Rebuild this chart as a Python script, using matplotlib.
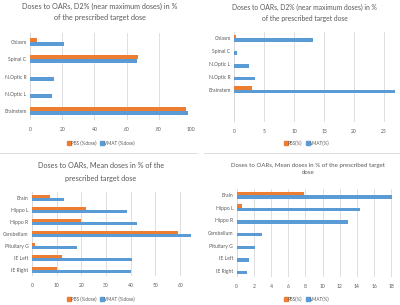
import numpy as np
import matplotlib
matplotlib.use("Agg")
from matplotlib import pyplot as plt
from matplotlib.lines import Line2D

plt.rcParams['font.family'] = ['Lato', 'DejaVu Sans']

# top left: D2%, % of prescribed dose
tl_labels = ["Chiasm", "Spinal C", "N.Optic R", "N.Optic L", "Brainstem"]
tl_pbs = [4.6, 67.1, 0, 0, 96.9]
tl_vmat = [21.3, 66.5, 14.9, 13.9, 98.3]

# top right: D2%
tr_labels = ["Chiasm", "Spinal C", "N.Optic L", "N.Optic R", "Brainstem"]
tr_pbs = [0.3, 0, 0, 0, 3.0]
tr_vmat = [13.2, 0.5, 2.5, 3.5, 26.9]

# bottom left: mean doses
bl_labels = ["Brain", "Hippo L", "Hippo R", "Cerebellum", "Pituitary G", "IE Left", "IE Right"]
bl_pbs = [7.4, 22.0, 19.8, 59.3, 1.3, 12.1, 10.1]
bl_vmat = [12.8, 38.4, 42.4, 64.3, 18.2, 40.4, 40.0]

# bottom right: mean doses
br_labels = ["Brain", "Hippo L", "Hippo R", "Cerebellum", "Pituitary G", "IE Left", "IE Right"]
br_pbs = [7.8, 0.6, 0, 0, 0, 0, 0]
br_vmat = [18.1, 14.3, 13.0, 2.9, 2.1, 1.4, 1.2]

ORANGE = "#ED7D31"
BLUE = "#5B9BD5"
GREY = "#595959"
W, H = 400, 305

fig = plt.figure(figsize=(4, 3.05), dpi=100)


def rect(x0, y0, x1, y1):
    return [x0 / W, 1 - y1 / H, (x1 - x0) / W, (y1 - y0) / H]


def panel(box, labels, pbs, vmat, xmax, step, nslots, bh):
    ax = fig.add_axes(rect(*box))
    y = np.arange(len(labels))
    ax.barh(y - bh / 2, pbs, height=bh, color=ORANGE, zorder=3)
    ax.barh(y + bh / 2, vmat, height=bh, color=BLUE, zorder=3)
    ax.set_yticks(y)
    ax.set_yticklabels(labels)
    ax.set_ylim(nslots - 0.5, -0.5)
    ax.set_xlim(0, xmax)
    ax.set_xticks(np.arange(0, xmax + 0.01, step))
    ax.grid(axis='x', color="#D9D9D9", linewidth=0.6, zorder=0)
    for s in ax.spines.values():
        s.set_visible(False)
    ax.axvline(0, color="#D9D9D9", linewidth=0.6, zorder=1)
    ax.tick_params(length=0, labelsize=3.6, colors=GREY, pad=2.5)
    ax.tick_params(axis='x', pad=5)
    return ax


def legend(cx, cy, names):
    handles = [Line2D([], [], marker='s', linestyle='', color=ORANGE, markersize=2.2),
               Line2D([], [], marker='s', linestyle='', color=BLUE, markersize=2.2)]
    fig.legend(handles, names, loc='center', bbox_to_anchor=(cx / W, 1 - cy / H),
               ncol=2, frameon=False, fontsize=3.3, labelcolor=GREY,
               handletextpad=0.1, columnspacing=0.8, handlelength=0.8)


panel((30, 33.4, 191, 119.7), tl_labels, tl_pbs, tl_vmat, 100, 20, 5, 0.23)
panel((234, 32, 396, 122), tr_labels, tr_pbs, tr_vmat, 27, 5, 7, 0.27)
panel((32, 192, 192.5, 276), bl_labels, bl_pbs, bl_vmat, 65, 10, 7, 0.27)
panel((236.7, 189, 395.7, 277), br_labels, br_pbs, br_vmat, 18.5, 2, 7, 0.27)

fig.text(100 / W, 1 - 12 / H, "Doses to OARs, D2% (near maximum doses) in %\nof the prescribed target dose",
         ha='center', va='center', fontsize=5.2, color=GREY, linespacing=1.75)
fig.text(304.5 / W, 1 - 13 / H, "Doses to OARs, D2% (near maximum doses) in %\nof the prescribed target dose",
         ha='center', va='center', fontsize=4.9, color=GREY, linespacing=1.8)
fig.text(101 / W, 1 - 172 / H, "Doses to OARs, Mean doses in % of the\nprescribed target dose",
         ha='center', va='center', fontsize=5.2, color=GREY, linespacing=1.95)
fig.text(308 / W, 1 - 169.5 / H, "Doses to OARs, Mean doses in % of the prescribed target\ndose",
         ha='center', va='center', fontsize=4.4, color=GREY, linespacing=1.5)

legend(101, 143, ["PBS (%dose)", "VMAT (%dose)"])
legend(307, 143, ["PBS(%)", "VMAT(%)"])
legend(101, 299, ["PBS (%dose)", "VMAT (%dose)"])
legend(307, 299, ["PBS(%)", "VMAT(%)"])

# faint panel separators
fig.add_artist(Line2D([0, 197 / W], [1 - 153 / H] * 2, color="#D9D9D9", linewidth=0.6))
fig.add_artist(Line2D([204 / W, 1], [1 - 153 / H] * 2, color="#D9D9D9", linewidth=0.6))

plt.savefig("out.png", dpi=100)
